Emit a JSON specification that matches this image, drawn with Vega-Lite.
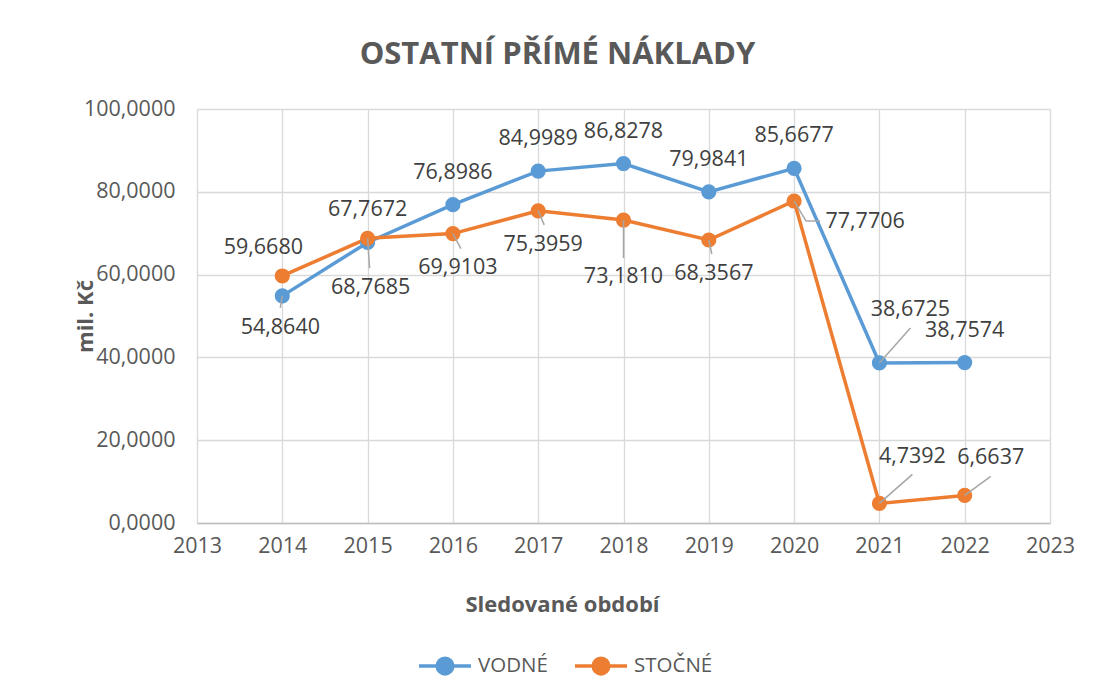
{
  "$schema": "https://vega.github.io/schema/vega-lite/v6.json",
  "width": 853,
  "height": 414,
  "autosize": {"type": "none"},
  "padding": {"left": 197, "top": 109, "right": 46, "bottom": 174},
  "background": "white",
  "title": {
    "text": "OSTATNÍ PŘÍMÉ NÁKLADY",
    "font": "Open Sans",
    "fontSize": 31,
    "fontWeight": "bold",
    "color": "#595959",
    "anchor": "middle",
    "dx": -66,
    "offset": 27
  },
  "config": {
    "locale": {"number": {"decimal": ",", "thousands": " ", "grouping": [3], "currency": ["", " Kč"]}},
    "view": {"stroke": null},
    "axis": {
      "labelFont": "Open Sans",
      "labelFontSize": 21.5,
      "labelColor": "#595959",
      "titleFont": "Open Sans",
      "titleFontSize": 22,
      "titleFontWeight": "bold",
      "titleColor": "#595959",
      "ticks": false,
      "gridColor": "#d9d9d9",
      "gridWidth": 1.3
    },
    "legend": {
      "labelFont": "Open Sans",
      "labelFontSize": 20.5,
      "labelColor": "#595959"
    }
  },
  "data": {
    "values": [
      {"year": 2014, "s": "VODNÉ", "v": 54.864},
      {"year": 2015, "s": "VODNÉ", "v": 67.7672},
      {"year": 2016, "s": "VODNÉ", "v": 76.8986},
      {"year": 2017, "s": "VODNÉ", "v": 84.9989},
      {"year": 2018, "s": "VODNÉ", "v": 86.8278},
      {"year": 2019, "s": "VODNÉ", "v": 79.9841},
      {"year": 2020, "s": "VODNÉ", "v": 85.6677},
      {"year": 2021, "s": "VODNÉ", "v": 38.6725},
      {"year": 2022, "s": "VODNÉ", "v": 38.7574},
      {"year": 2014, "s": "STOČNÉ", "v": 59.668},
      {"year": 2015, "s": "STOČNÉ", "v": 68.7685},
      {"year": 2016, "s": "STOČNÉ", "v": 69.9103},
      {"year": 2017, "s": "STOČNÉ", "v": 75.3959},
      {"year": 2018, "s": "STOČNÉ", "v": 73.181},
      {"year": 2019, "s": "STOČNÉ", "v": 68.3567},
      {"year": 2020, "s": "STOČNÉ", "v": 77.7706},
      {"year": 2021, "s": "STOČNÉ", "v": 4.7392},
      {"year": 2022, "s": "STOČNÉ", "v": 6.6637}
    ]
  },
  "encoding": {
    "x": {
      "field": "year",
      "type": "quantitative",
      "scale": {"domain": [2013, 2023], "nice": false, "zero": false},
      "axis": {
        "values": [2013, 2014, 2015, 2016, 2017, 2018, 2019, 2020, 2021, 2022, 2023],
        "format": "d",
        "labelFlush": false,
        "labelOverlap": false,
        "labelPadding": 12,
        "domainColor": "#bfbfbf",
        "domainWidth": 1.5,
        "title": "Sledované období",
        "titleX": 365,
        "titlePadding": 38
      }
    },
    "y": {
      "field": "v",
      "type": "quantitative",
      "scale": {"domain": [0, 100], "nice": false},
      "axis": {
        "values": [0, 20, 40, 60, 80, 100],
        "format": ".4f",
        "labelPadding": 22,
        "domain": false,
        "title": "mil. Kč",
        "titlePadding": -14
      }
    }
  },
  "layer": [
    {
      "mark": {"type": "line", "strokeWidth": 3.5, "point": {"filled": true, "size": 230}},
      "encoding": {
        "color": {
          "field": "s",
          "type": "nominal",
          "sort": ["VODNÉ", "STOČNÉ"],
          "scale": {"domain": ["VODNÉ", "STOČNÉ"], "range": ["#5B9BD5", "#ED7D31"]},
          "legend": {
            "title": null,
            "orient": "none",
            "direction": "horizontal",
            "legendX": 220,
            "legendY": 529,
            "symbolType": "M-1,0H1M0.3,0A0.3,0.3,0,1,1,-0.3,0A0.3,0.3,0,1,1,0.3,0Z",
            "symbolSize": 2704,
            "symbolStrokeWidth": 3.5,
            "labelOffset": 5,
            "columnPadding": 20,
            "encode": {"symbols": {"update": {"fill": {"scale": "color", "field": "value"}}}}
          }
        }
      }
    },
    {"transform": [{"filter": "datum.s=='VODNÉ' && datum.year==2014"}], "mark": {"type": "rule", "color": "#a6a6a6", "strokeWidth": 1.5, "x2Offset": -2, "y2Offset": 12}, "encoding": {"x2": {"field": "year"}, "y2": {"field": "v"}}},
    {"transform": [{"filter": "datum.s=='STOČNÉ' && datum.year==2015"}], "mark": {"type": "rule", "color": "#a6a6a6", "strokeWidth": 1.5, "x2Offset": 2, "y2Offset": 30}, "encoding": {"x2": {"field": "year"}, "y2": {"field": "v"}}},
    {"transform": [{"filter": "datum.s=='STOČNÉ' && datum.year==2016"}], "mark": {"type": "rule", "color": "#a6a6a6", "strokeWidth": 1.5, "x2Offset": 8, "y2Offset": 15}, "encoding": {"x2": {"field": "year"}, "y2": {"field": "v"}}},
    {"transform": [{"filter": "datum.s=='STOČNÉ' && datum.year==2017"}], "mark": {"type": "rule", "color": "#a6a6a6", "strokeWidth": 1.5, "x2Offset": 6, "y2Offset": 14}, "encoding": {"x2": {"field": "year"}, "y2": {"field": "v"}}},
    {"transform": [{"filter": "datum.s=='STOČNÉ' && datum.year==2018"}], "mark": {"type": "rule", "color": "#a6a6a6", "strokeWidth": 1.5, "x2Offset": 0, "y2Offset": 38}, "encoding": {"x2": {"field": "year"}, "y2": {"field": "v"}}},
    {"transform": [{"filter": "datum.s=='STOČNÉ' && datum.year==2019"}], "mark": {"type": "rule", "color": "#a6a6a6", "strokeWidth": 1.5, "x2Offset": 3, "y2Offset": 14}, "encoding": {"x2": {"field": "year"}, "y2": {"field": "v"}}},
    {"transform": [{"filter": "datum.s=='STOČNÉ' && datum.year==2020"}], "mark": {"type": "rule", "color": "#a6a6a6", "strokeWidth": 1.5, "x2Offset": 12, "y2Offset": 20}, "encoding": {"x2": {"field": "year"}, "y2": {"field": "v"}}},
    {"transform": [{"filter": "datum.s=='STOČNÉ' && datum.year==2020"}], "mark": {"type": "rule", "color": "#a6a6a6", "strokeWidth": 1.5, "xOffset": 12, "yOffset": 20, "x2Offset": 26, "y2Offset": 20}, "encoding": {"x2": {"field": "year"}, "y2": {"field": "v"}}},
    {"transform": [{"filter": "datum.s=='VODNÉ' && datum.year==2021"}], "mark": {"type": "rule", "color": "#a6a6a6", "strokeWidth": 1.5, "x2Offset": 31, "y2Offset": -35}, "encoding": {"x2": {"field": "year"}, "y2": {"field": "v"}}},
    {"transform": [{"filter": "datum.s=='STOČNÉ' && datum.year==2021"}], "mark": {"type": "rule", "color": "#a6a6a6", "strokeWidth": 1.5, "x2Offset": 33, "y2Offset": -29}, "encoding": {"x2": {"field": "year"}, "y2": {"field": "v"}}},
    {"transform": [{"filter": "datum.s=='STOČNÉ' && datum.year==2022"}], "mark": {"type": "rule", "color": "#a6a6a6", "strokeWidth": 1.5, "x2Offset": 26, "y2Offset": -19}, "encoding": {"x2": {"field": "year"}, "y2": {"field": "v"}}},
    {"transform": [{"filter": "datum.s=='VODNÉ' && datum.year!=2014 && datum.year!=2021"}], "mark": {"type": "text", "font": "Open Sans", "fontSize": 21.5, "color": "#404040", "align": "center", "baseline": "middle", "dx": 0, "dy": -32}, "encoding": {"text": {"field": "v", "type": "quantitative", "format": ".4f"}}},
    {"transform": [{"filter": "datum.s=='VODNÉ' && datum.year==2014"}], "mark": {"type": "text", "font": "Open Sans", "fontSize": 21.5, "color": "#404040", "align": "center", "baseline": "middle", "dx": -2, "dy": 32}, "encoding": {"text": {"field": "v", "type": "quantitative", "format": ".4f"}}},
    {"transform": [{"filter": "datum.s=='VODNÉ' && datum.year==2021"}], "mark": {"type": "text", "font": "Open Sans", "fontSize": 21.5, "color": "#404040", "align": "center", "baseline": "middle", "dx": 31, "dy": -53}, "encoding": {"text": {"field": "v", "type": "quantitative", "format": ".4f"}}},
    {"transform": [{"filter": "datum.s=='STOČNÉ' && datum.year==2014"}], "mark": {"type": "text", "font": "Open Sans", "fontSize": 21.5, "color": "#404040", "align": "center", "baseline": "middle", "dx": -19, "dy": -28}, "encoding": {"text": {"field": "v", "type": "quantitative", "format": ".4f"}}},
    {"transform": [{"filter": "datum.s=='STOČNÉ' && datum.year==2015"}], "mark": {"type": "text", "font": "Open Sans", "fontSize": 21.5, "color": "#404040", "align": "center", "baseline": "middle", "dx": 3, "dy": 50}, "encoding": {"text": {"field": "v", "type": "quantitative", "format": ".4f"}}},
    {"transform": [{"filter": "datum.s=='STOČNÉ' && (datum.year==2016 || datum.year==2017 || datum.year==2019)"}], "mark": {"type": "text", "font": "Open Sans", "fontSize": 21.5, "color": "#404040", "align": "center", "baseline": "middle", "dx": 5, "dy": 34}, "encoding": {"text": {"field": "v", "type": "quantitative", "format": ".4f"}}},
    {"transform": [{"filter": "datum.s=='STOČNÉ' && datum.year==2018"}], "mark": {"type": "text", "font": "Open Sans", "fontSize": 21.5, "color": "#404040", "align": "center", "baseline": "middle", "dx": 0, "dy": 57}, "encoding": {"text": {"field": "v", "type": "quantitative", "format": ".4f"}}},
    {"transform": [{"filter": "datum.s=='STOČNÉ' && datum.year==2020"}], "mark": {"type": "text", "font": "Open Sans", "fontSize": 21.5, "color": "#404040", "align": "center", "baseline": "middle", "dx": 71, "dy": 21}, "encoding": {"text": {"field": "v", "type": "quantitative", "format": ".4f"}}},
    {"transform": [{"filter": "datum.s=='STOČNÉ' && datum.year==2021"}], "mark": {"type": "text", "font": "Open Sans", "fontSize": 21.5, "color": "#404040", "align": "center", "baseline": "middle", "dx": 33, "dy": -46}, "encoding": {"text": {"field": "v", "type": "quantitative", "format": ".4f"}}},
    {"transform": [{"filter": "datum.s=='STOČNÉ' && datum.year==2022"}], "mark": {"type": "text", "font": "Open Sans", "fontSize": 21.5, "color": "#404040", "align": "center", "baseline": "middle", "dx": 26, "dy": -37}, "encoding": {"text": {"field": "v", "type": "quantitative", "format": ".4f"}}}
  ]
}
